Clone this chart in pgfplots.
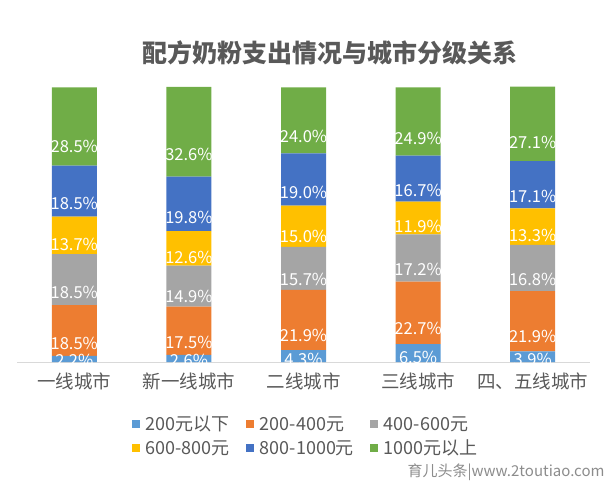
\documentclass[border=0pt]{standalone}
\usepackage{fontspec}
\setmainfont{Noto Sans CJK SC}
\usepackage{pgfplots}
\pgfplotsset{compat=1.18}
\definecolor{c1}{HTML}{5B9BD5}
\definecolor{c2}{HTML}{ED7D31}
\definecolor{c3}{HTML}{A5A5A5}
\definecolor{c4}{HTML}{FFC000}
\definecolor{c5}{HTML}{4472C4}
\definecolor{c6}{HTML}{70AD47}
\definecolor{txt}{HTML}{595959}
\begin{document}
\begin{tikzpicture}
\path[use as bounding box] (0,0) rectangle (612bp,481bp);
\node[font=\fontsize{25bp}{30bp}\selectfont\bfseries, text=txt] at (330bp,428bp) {配方奶粉支出情况与城市分级关系};
\begin{axis}[
    at={(17bp,119bp)}, anchor=south west,
    scale only axis, width=573bp, height=275bp,
    ybar stacked, bar width=45bp,
    xmin=-0.5, xmax=4.5, ymin=0, ymax=100,
    axis y line=none, axis x line*=bottom,
    x axis line style={draw=black!15, line width=1bp},
    xtick={0,1,2,3,4},
    xticklabels={一线城市,新一线城市,二线城市,三线城市,四、五线城市},
    major tick length=0pt,
    x tick label style={font=\fontsize{18.5bp}{21bp}\selectfont, text=txt, yshift=-7bp},
    clip=false,
    point meta=explicit,
    nodes near coords={\pgfmathprintnumber[fixed,fixed zerofill,precision=1,assume math mode=true]{\pgfplotspointmeta}\%},
    every node near coord/.append style={
        font=\fontsize{16.5bp}{19bp}\selectfont, text=white, anchor=center, inner sep=0pt,
        /utils/exec={\pgfkeys{/pgf/fpu=true,/pgf/fpu/output format=fixed}%
            \pgfmathsetmacro\myoff{\pgfplotspointmeta*0.6875}%
            \pgfkeys{/pgf/fpu=false}},
        yshift=-\myoff bp},
    legend columns=3,
    legend cell align=left,
    legend style={at={(axis description cs:0.504,-0.185)}, anchor=north, draw=none,
        font=\fontsize{18bp}{21bp}\selectfont, text=txt,
        nodes={inner xsep=2bp, inner ysep=1bp},
        /tikz/every odd column/.append style={column sep=4bp},
        /tikz/every even column/.append style={column sep=14bp},
        row sep=6bp},
    legend image code/.code={\fill[#1] (0bp,-4bp) rectangle (8bp,4bp);},
]
\addplot[fill=c1, draw=none] coordinates {(0,2.2) [2.2] (1,2.6) [2.6] (2,4.3) [4.3] (3,6.5) [6.5] (4,3.9) [3.9]};
\addplot[fill=c2, draw=none] coordinates {(0,18.5) [18.5] (1,17.5) [17.5] (2,21.9) [21.9] (3,22.7) [22.7] (4,21.9) [21.9]};
\addplot[fill=c3, draw=none] coordinates {(0,18.5) [18.5] (1,14.9) [14.9] (2,15.7) [15.7] (3,17.2) [17.2] (4,16.8) [16.8]};
\addplot[fill=c4, draw=none] coordinates {(0,13.7) [13.7] (1,12.6) [12.6] (2,15.0) [15.0] (3,11.9) [11.9] (4,13.3) [13.3]};
\addplot[fill=c5, draw=none] coordinates {(0,18.5) [18.5] (1,19.8) [19.8] (2,19.0) [19.0] (3,16.7) [16.7] (4,17.1) [17.1]};
\addplot[fill=c6, draw=none] coordinates {(0,28.5) [28.5] (1,32.6) [32.6] (2,24.0) [24.0] (3,24.9) [24.9] (4,27.1) [27.1]};
\legend{200元以下,200-400元,400-600元,600-800元,800-1000元,1000元以上}
\end{axis}
\node[anchor=east, text=black!45, font=\fontsize{15bp}{18bp}\selectfont] at (608bp,9bp) {育儿头条|www.2toutiao.com};
\end{tikzpicture}
\end{document}
